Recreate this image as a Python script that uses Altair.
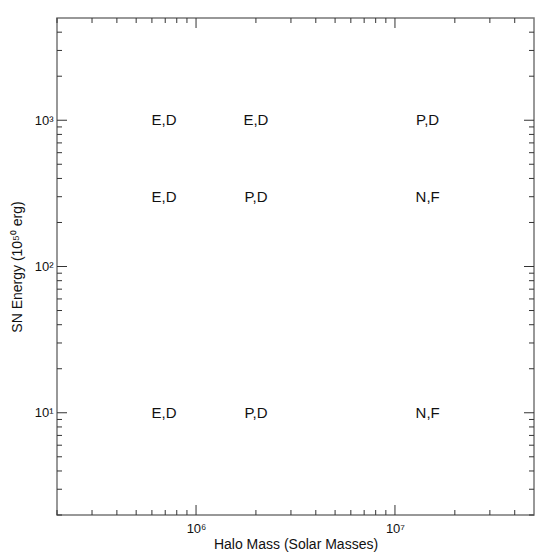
import altair as alt
import pandas as pd

# ---- data ----
masses = [6.9e5, 2.0e6, 1.46e7, 6.9e5, 2.0e6, 1.46e7, 6.9e5, 2.0e6, 1.46e7]
energies = [1000, 1000, 1000, 300, 300, 300, 10, 10, 10]
outcomes = ["E,D", "E,D", "P,D", "E,D", "P,D", "N,F", "E,D", "P,D", "N,F"]

x_domain = [2e5, 5e7]
y_domain = [2, 5000]

x_major = [1e6, 1e7]
x_major_labels = ["10⁶", "10⁷"]
x_minor = [2e5, 3e5, 4e5, 5e5, 6e5, 7e5, 8e5, 9e5,
           2e6, 3e6, 4e6, 5e6, 6e6, 7e6, 8e6, 9e6,
           2e7, 3e7, 4e7]
y_major = [10, 100, 1000]
y_major_labels = ["10¹", "10²", "10³"]
y_minor = [2, 3, 4, 5, 6, 7, 8, 9,
           20, 30, 40, 50, 60, 70, 80, 90,
           200, 300, 400, 500, 600, 700, 800, 900,
           2000, 3000, 4000]

x_title = "Halo Mass (Solar Masses)"
y_title = "SN Energy (10⁵⁰ erg)"

W, H = 477, 497
MAJ, MIN = 10, 5
FONT = "Liberation Sans"

xs = alt.Scale(type="log", domain=x_domain, nice=False)
ys = alt.Scale(type="log", domain=y_domain, nice=False)


def label_expr(vals, labs):
    e = "''"
    for v, l in zip(vals, labs):
        e = f"datum.value == {v} ? '{l}' : ({e})"
    return e


x_axis = alt.Axis(
    values=x_major, labelExpr=label_expr(x_major, x_major_labels),
    ticks=False, tickSize=0, domain=False, grid=False,
    labelPadding=7, labelFontSize=13, labelFont=FONT, labelColor="#111",
    labelFlush=False, labelOverlap=False,
    title=x_title, titleFont=FONT, titleFontSize=14, titleFontWeight="normal",
    titleColor="#111", titleBaseline="alphabetic", titleY=33, titleX=W / 2,
)
y_axis = alt.Axis(
    values=y_major, labelExpr=label_expr(y_major, y_major_labels),
    ticks=False, tickSize=0, domain=False, grid=False,
    labelPadding=4, labelFontSize=13, labelFont=FONT, labelColor="#111",
    labelFlush=False, labelOverlap=False,
    title=y_title, titleFont=FONT, titleFontSize=14, titleFontWeight="normal",
    titleColor="#111", titleAngle=270, titleBaseline="alphabetic",
    titleAlign="center", titleX=-36, titleY=H / 2,
)

df = pd.DataFrame({"mass": masses, "energy": energies, "outcome": outcomes})

text = alt.Chart(df).mark_text(
    fontSize=15, font=FONT, color="#111", align="center", baseline="middle"
).encode(
    x=alt.X("mass:Q", scale=xs, axis=x_axis),
    y=alt.Y("energy:Q", scale=ys, axis=y_axis),
    text="outcome:N",
)


def xticks(vals, length, top):
    d = pd.DataFrame({"mass": vals})
    if top:
        y0, y1 = 0, length
    else:
        y0, y1 = H, H - length
    return alt.Chart(d).mark_rule(color="#333", strokeWidth=1).encode(
        x=alt.X("mass:Q", scale=xs, axis=x_axis),
        y=alt.value(y0), y2=alt.value(y1),
    )


def yticks(vals, length, right):
    d = pd.DataFrame({"energy": vals})
    if right:
        x0, x1 = W, W - length
    else:
        x0, x1 = 0, length
    return alt.Chart(d).mark_rule(color="#333", strokeWidth=1).encode(
        y=alt.Y("energy:Q", scale=ys, axis=y_axis),
        x=alt.value(x0), x2=alt.value(x1),
    )


layers = [
    text,
    xticks(x_major, MAJ, False), xticks(x_minor, MIN, False),
    xticks(x_major, MAJ, True), xticks(x_minor, MIN, True),
    yticks(y_major, MAJ, False), yticks(y_minor, MIN, False),
    yticks(y_major, MAJ, True), yticks(y_minor, MIN, True),
]

chart = alt.layer(*layers).properties(
    width=W, height=H,
    autosize=alt.AutoSizeParams(type="none"),
    padding={"left": 49, "top": 10, "right": 10, "bottom": 37},
    background="white",
).configure_view(
    stroke="#777", strokeWidth=1.5
)

chart.save("out.html", embed_options={"renderer": "svg", "actions": False})
